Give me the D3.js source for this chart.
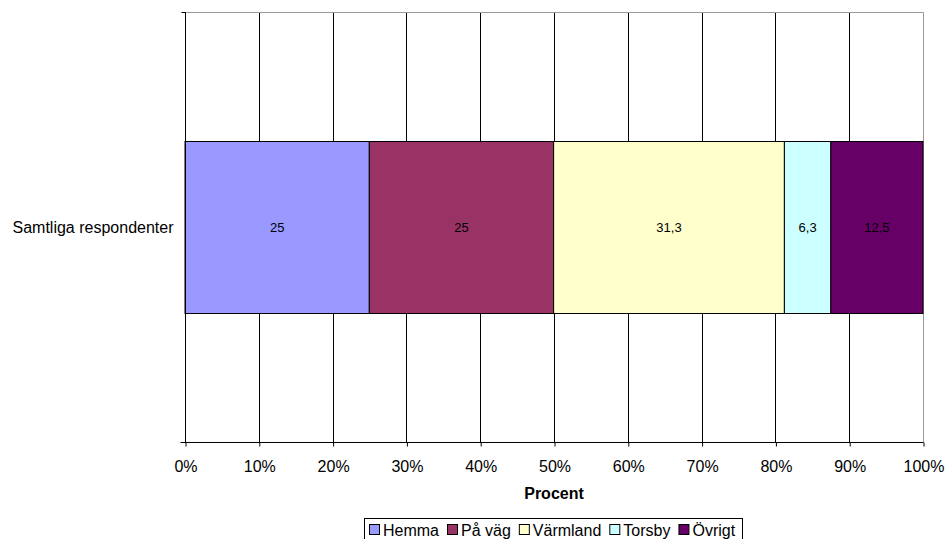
<!DOCTYPE html>
<html><head><meta charset="utf-8">
<script src="https://cdn.jsdelivr.net/npm/d3@7"></script>
<style>body{margin:0;background:#fff}svg{display:block;font-family:"Liberation Sans",Arial,sans-serif}</style>
</head><body>
<svg id="c" width="946" height="539"></svg>
<script>
const categories = ["Samtliga respondenter"];
const seriesNames = ["Hemma", "På väg", "Värmland", "Torsby", "Övrigt"];
const seriesValues = [25, 25, 31.3, 6.3, 12.5];
const seriesColors = ["#9999FF", "#993366", "#FFFFCC", "#CCFFFF", "#660066"];
const tickValues = [0, 10, 20, 30, 40, 50, 60, 70, 80, 90, 100];

const svg = d3.select("#c");
const L = 185, R = 923, T = 12.5, B = 442.5;
const x = d3.scaleLinear().domain([0, 100]).range([L, R]);
const y = d3.scaleBand().domain(categories).range([T, B]).paddingInner(0).paddingOuter(0.3);

// gridlines
svg.append("g").selectAll("line").data(tickValues.slice(1)).join("line")
  .attr("x1", d => Math.round(x(d)) + 0.5).attr("x2", d => Math.round(x(d)) + 0.5)
  .attr("y1", T).attr("y2", B).attr("stroke", d => d === 100 ? "#999" : "#000").attr("stroke-width", 1);
// top border
svg.append("line").attr("x1", L).attr("x2", R + 0.5).attr("y1", T).attr("y2", T).attr("stroke", "#999");

// stacked bars (100% stacked)
const total = d3.sum(seriesValues);
let acc = 0;
const segs = seriesValues.map((v, i) => { const s = {name: seriesNames[i], v, x0: acc / total * 100, x1: (acc + v) / total * 100, c: seriesColors[i]}; acc += v; return s; });
const barH = 172;
const g = svg.append("g");
segs.forEach(s => {
  g.append("rect").attr("x", x(s.x0)).attr("width", x(s.x1) - x(s.x0))
    .attr("y", y(categories[0]) + (y.bandwidth() - barH) / 2).attr("height", barH)
    .attr("fill", s.c).attr("stroke", "#000").attr("stroke-width", 1);
  g.append("text").attr("x", (x(s.x0) + x(s.x1)) / 2).attr("y", y(categories[0]) + y.bandwidth() / 2)
    .attr("dy", "0.35em").attr("text-anchor", "middle").attr("font-size", 13).attr("fill", "#000")
    .text(String(s.v).replace(".", ","));
});

// axes
const xAxis = d3.axisBottom(x).tickValues(tickValues).tickFormat(d => d + "%").tickSize(4).tickSizeOuter(0);
const ax = svg.append("g").attr("transform", `translate(0.5,${B})`).call(xAxis);
ax.select(".domain").attr("stroke", "#000").attr("d", `M${L - 5},0H${R}`);
ax.selectAll("text").attr("font-size", 16).attr("fill", "#000").attr("y", 24).attr("dy", "0.35em").style("font-family", "Liberation Sans, Arial, sans-serif");
ax.selectAll(".tick line").attr("stroke", "#000");

const ay = svg.append("g").attr("transform", `translate(${L + 0.5},0)`);
ay.append("line").attr("y1", T - 0.5).attr("y2", B).attr("stroke", "#000");
[T, B].forEach(v => ay.append("line").attr("x1", -4).attr("x2", 0).attr("y1", v).attr("y2", v).attr("stroke", "#000"));
ay.append("text").attr("x", -12).attr("y", y(categories[0]) + y.bandwidth() / 2).attr("dy", "0.35em")
  .attr("text-anchor", "end").attr("font-size", 16).attr("fill", "#000").text(categories[0]);

// axis title
svg.append("text").attr("x", (L + R) / 2).attr("y", 493).attr("dy", "0.35em").attr("text-anchor", "middle")
  .attr("font-size", 16).attr("font-weight", "bold").text("Procent");

// legend
const lg = svg.append("g");
lg.append("rect").attr("x", 364.5).attr("y", 518.5).attr("width", 378).attr("height", 30).attr("fill", "#fff").attr("stroke", "#000");
let lx = 369;
seriesNames.forEach((n, i) => {
  lg.append("rect").attr("x", lx + 0.5).attr("y", 524.5).attr("width", 10).attr("height", 10).attr("fill", seriesColors[i]).attr("stroke", "#000");
  const t = lg.append("text").attr("x", lx + 14).attr("y", 536).attr("font-size", 16).attr("fill", "#000").text(n);
  lx += 14 + t.node().getComputedTextLength() + 8;
});
</script>
</body></html>
